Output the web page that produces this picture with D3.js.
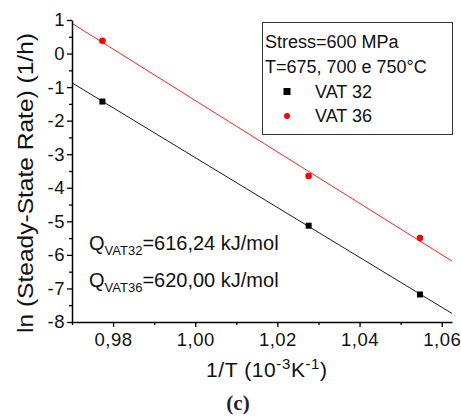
<!DOCTYPE html>
<html>
<head>
<meta charset="utf-8">
<script src="https://cdn.jsdelivr.net/npm/d3@7"></script>
<style>
  html, body { margin: 0; padding: 0; background: #fff; }
  svg { display: block; font-family: "Liberation Sans", Arial, sans-serif; }
</style>
</head>
<body>
<svg id="chart" width="461" height="417"></svg>
<script>
// ---- data ----
const invT32 = [0.9774, 1.0276, 1.0547];
const lnRate32 = [-1.43, -5.13, -7.18];
const invT36 = [0.9774, 1.0276, 1.0547];
const lnRate36 = [0.38, -3.65, -5.50];
const xTicks = [0.98, 1.00, 1.02, 1.04, 1.06];
const xMinorTicks = [0.97, 0.99, 1.01, 1.03, 1.05];
const yTicks = [1, 0, -1, -2, -3, -4, -5, -6, -7, -8];
const yMinorTicks = [0.5, -0.5, -1.5, -2.5, -3.5, -4.5, -5.5, -6.5, -7.5];
const legendLines = ["Stress=600 MPa", "T=675, 700 e 750°C"];
const seriesNames = ["VAT 32", "VAT 36"];
const qLabels = [["Q", "VAT32", "=616,24 kJ/mol"], ["Q", "VAT36", "=620,00 kJ/mol"]];

const svg = d3.select("#chart");
const x = d3.scaleLinear().domain([0.97, 1.0625]).range([72, 452]);
const y = d3.scaleLinear().domain([-8, 1]).range([322, 20]);

function fit(xs, ys) {
  const mx = d3.mean(xs), my = d3.mean(ys);
  let sxy = 0, sxx = 0;
  xs.forEach((v, i) => { sxy += (v - mx) * (ys[i] - my); sxx += (v - mx) * (v - mx); });
  const b = sxy / sxx;
  return v => my + b * (v - mx);
}

const series = [
  { xs: invT32, ys: lnRate32, color: "#000", line: "#1a1a1a", shape: "square" },
  { xs: invT36, ys: lnRate36, color: "#ff0000", line: "#ff2020", shape: "circle" }
];

// fit lines
series.forEach(s => {
  const f = fit(s.xs, s.ys);
  const dom = x.domain();
  svg.append("line")
    .attr("x1", x(dom[0])).attr("y1", y(f(dom[0])))
    .attr("x2", x(dom[1])).attr("y2", y(f(dom[1])))
    .attr("stroke", s.line)
    .attr("stroke-width", 1);
});

// points
series.forEach(s => {
  const pts = s.xs.map((v, i) => [v, s.ys[i]]);
  if (s.shape === "square") {
    svg.selectAll(null).data(pts).enter().append("rect")
      .attr("x", d => x(d[0]) - 3).attr("y", d => y(d[1]) - 3)
      .attr("width", 6).attr("height", 6).attr("fill", s.color);
  } else {
    svg.selectAll(null).data(pts).enter().append("circle")
      .attr("cx", d => x(d[0])).attr("cy", d => y(d[1]))
      .attr("r", 3.3).attr("fill", s.color);
  }
});

// axes
const fmtX = d => d3.format(".2f")(d).replace(".", ",");
const fmtY = d => String(d);
const xAxis = svg.append("g").attr("transform", "translate(0,322)")
  .call(d3.axisBottom(x).tickValues(xTicks).tickFormat(fmtX).tickSize(5).tickPadding(6).tickSizeOuter(0));
svg.append("g").attr("transform", "translate(0,322)")
  .call(d3.axisBottom(x).tickValues(xMinorTicks).tickFormat("").tickSize(3).tickSizeOuter(0))
  .select(".domain").remove();
const yAxis = svg.append("g").attr("transform", "translate(72,0)")
  .call(d3.axisLeft(y).tickValues(yTicks).tickFormat(fmtY).tickSize(5).tickPadding(2).tickSizeOuter(0));
svg.append("g").attr("transform", "translate(72,0)")
  .call(d3.axisLeft(y).tickValues(yMinorTicks).tickFormat("").tickSize(3).tickSizeOuter(0))
  .select(".domain").remove();

svg.selectAll(".domain").attr("stroke", "#000").attr("stroke-width", 1.5);
svg.selectAll(".tick line").attr("stroke", "#000").attr("stroke-width", 1.3);
[xAxis, yAxis].forEach(a => a.selectAll("text")
  .attr("font-size", 18.5).attr("fill", "#111")
  .attr("font-family", "Liberation Sans, Arial, sans-serif")
  .style("letter-spacing", "0.5px"));

// axis titles
svg.append("text")
  .attr("transform", "translate(33,183) rotate(-90)")
  .attr("text-anchor", "middle")
  .attr("font-size", 21.5).attr("fill", "#111")
  .attr("textLength", 300).attr("lengthAdjust", "spacingAndGlyphs")
  .text("ln (Steady-State Rate) (1/h)");

const xt = svg.append("text").attr("x", 206).attr("y", 377)
  .attr("font-size", 21).attr("fill", "#111").style("letter-spacing", "0.6px");
xt.append("tspan").text("1/T (10");
xt.append("tspan").attr("font-size", 15).attr("dy", -8).text("-3");
xt.append("tspan").attr("dy", 8).text("K");
xt.append("tspan").attr("font-size", 15).attr("dy", -8).text("-1");
xt.append("tspan").attr("dy", 8).text(")");

svg.append("text").attr("x", 238).attr("y", 410).attr("text-anchor", "middle")
  .attr("font-family", "Liberation Serif, Times New Roman, serif")
  .attr("font-size", 21).attr("font-weight", "bold").attr("fill", "#222")
  .text("(c)");

// legend
const lg = svg.append("g");
lg.append("rect").attr("x", 262.5).attr("y", 22.5).attr("width", 190).attr("height", 112)
  .attr("fill", "#fff").attr("stroke", "#333").attr("stroke-width", 1);
legendLines.forEach((t, i) => {
  lg.append("text").attr("x", 265).attr("y", 47.5 + i * 25)
    .attr("font-size", 18).attr("fill", "#111").text(t);
});
seriesNames.forEach((t, i) => {
  const cy = 91.5 + i * 24.5;
  const s = series[i];
  if (s.shape === "square") {
    lg.append("rect").attr("x", 283.5).attr("y", cy - 3.5).attr("width", 7).attr("height", 7).attr("fill", s.color);
  } else {
    lg.append("circle").attr("cx", 287).attr("cy", cy).attr("r", 3).attr("fill", s.color);
  }
  lg.append("text").attr("x", 315).attr("y", 97.5 + i * 24.5)
    .attr("font-size", 18).attr("fill", "#111").text(t);
});

// Q annotations
qLabels.forEach((q, i) => {
  const t = svg.append("text").attr("x", 89).attr("y", 250 + i * 37)
    .attr("font-size", 20).attr("fill", "#111");
  t.append("tspan").text(q[0]);
  t.append("tspan").attr("font-size", 13).attr("dy", 5).text(q[1]);
  t.append("tspan").attr("dy", -5).text(q[2]);
});
</script>
</body>
</html>
